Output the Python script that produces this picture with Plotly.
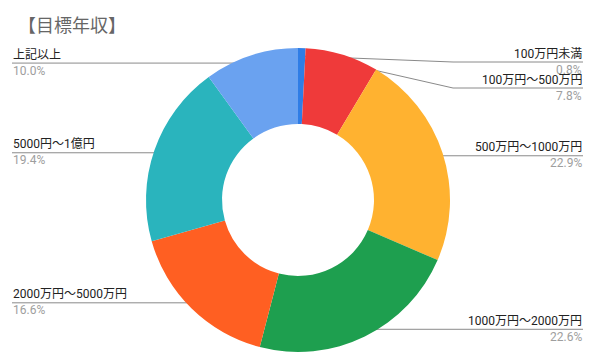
import math
import plotly.graph_objects as go

# ---- data ----
categories = ["100万円未満", "100万円～500万円", "500万円～1000万円", "1000万円～2000万円",
              "2000万円～5000万円", "5000円～1億円", "上記以上"]
values = [0.8, 7.8, 22.9, 22.6, 16.6, 19.4, 10.0]
pct_labels = ["0.8%", "7.8%", "22.9%", "22.6%", "16.6%", "19.4%", "10.0%"]
colors = ["#2f7de6", "#ef3a3a", "#ffb230", "#1e9f4f", "#ff5f22", "#2ab4bd", "#6aa2f0"]

W, H = 595, 360
CX, CY, R = 298, 200, 152
HOLE = 0.5

fig = go.Figure()
fig.add_trace(go.Pie(
    labels=categories, values=values, sort=False, direction="clockwise", rotation=0,
    hole=HOLE, marker=dict(colors=colors, line=dict(width=0)),
    textinfo="none", hoverinfo="label+percent", showlegend=False,
    domain=dict(x=[(CX - R) / W, (CX + R) / W], y=[(H - CY - R) / H, (H - CY + R) / H]),
))

# leader lines computed from slice angles
total = sum(values)
cum = 0
items = []
for cat, v, p in zip(categories, values, pct_labels):
    mid = (cum + v / 2) / total * 2 * math.pi
    cum += v
    rd = R * 0.947
    dx = CX + rd * math.sin(mid)
    dy = CY - rd * math.cos(mid)
    side = "right" if dx >= CX else "left"
    items.append(dict(cat=cat, pct=p, dx=dx, dy=dy, side=side))

MIN_Y, GAP = 62, 26
for side in ("right", "left"):
    grp = sorted([it for it in items if it["side"] == side], key=lambda it: it["dy"])
    prev = None
    for it in grp:
        ly = max(it["dy"], MIN_Y)
        if prev is not None and ly < prev + GAP:
            ly = prev + GAP
        it["ly"] = ly
        prev = ly

annotations = []
line_col = "#8a8a8a"
for it in items:
    if it["side"] == "right":
        end_x, elbow_x, anchor = 583, 453, "right"
    else:
        end_x, elbow_x, anchor = 12, 143, "left"
    if abs(it["ly"] - it["dy"]) > 0.5:
        xs = [it["dx"], elbow_x, end_x]
        ys = [it["dy"], it["ly"], it["ly"]]
    else:
        xs = [it["dx"], end_x]
        ys = [it["dy"], it["dy"]]
    fig.add_trace(go.Scatter(x=xs, y=ys, mode="lines", line=dict(color=line_col, width=1),
                             hoverinfo="skip", showlegend=False))
    fig.add_trace(go.Scatter(x=[it["dx"]], y=[it["dy"]], mode="markers",
                             marker=dict(color=line_col, size=5), hoverinfo="skip", showlegend=False))
    annotations.append(dict(x=end_x, y=it["ly"] - 8.5, xref="x", yref="y", text=it["cat"],
                            showarrow=False, xanchor=anchor, yanchor="middle", borderpad=0,
                            font=dict(size=12, color="#222222")))
    annotations.append(dict(x=end_x, y=it["ly"] + 7.5, xref="x", yref="y", text=it["pct"],
                            showarrow=False, xanchor=anchor, yanchor="middle", borderpad=0,
                            font=dict(size=12, color="#9e9e9e")))

annotations.append(dict(x=71.5, y=25.5, xref="x", yref="y", text="【目標年収】", showarrow=False,
                        xanchor="center", yanchor="middle", borderpad=0,
                        font=dict(size=18, color="#666666")))

fig.update_layout(
    width=W, height=H, margin=dict(l=0, r=0, t=0, b=0),
    paper_bgcolor="white", plot_bgcolor="rgba(0,0,0,0)",
    font=dict(family="Roboto, 'Noto Sans CJK JP', sans-serif"),
    xaxis=dict(range=[0, W], visible=False, fixedrange=True, domain=[0, 1]),
    yaxis=dict(range=[H, 0], visible=False, fixedrange=True, domain=[0, 1]),
    annotations=annotations,
)

fig.write_html("out.html", config={"displayModeBar": False},
               post_script="document.body.style.margin='0';")
